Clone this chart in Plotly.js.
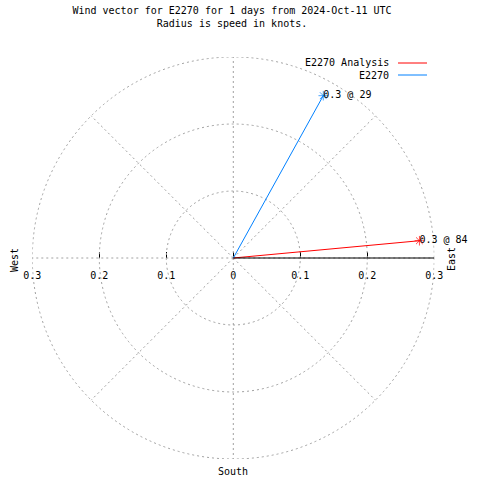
<!DOCTYPE html>
<html>
<head>
<meta charset="utf-8">
<script src="https://cdn.plot.ly/plotly-3.0.1.min.js"></script>
<style>html,body{margin:0;padding:0;background:#fff;}#chart{width:480px;height:480px;}</style>
</head>
<body>
<div id="chart"></div>
<script>
const seriesNames = ['E2270 Analysis', 'E2270'];
const speedKnots = [0.279, 0.277];
const directionDeg = [84.7, 29.0];
const pointLabels = ['0.3 @ 84', '0.3 @ 29'];
const seriesColors = ['#ff0000', '#0080ff'];
const radialTicks = [0.1, 0.2, 0.3];
const radialMax = 0.3;
const axisTickVals = [-0.3, -0.2, -0.1, 0, 0.1, 0.2, 0.3];
const axisTickText = ['0.3', '0.2', '0.1', '0', '0.1', '0.2', '0.3'];
const titleText = 'Wind vector for E2270 for 1 days from 2024-Oct-11 UTC<br>Radius is speed in knots.';

const FONT = 'DejaVu Sans Mono, Liberation Mono, monospace';
const W = 480, H = 480;
const cx = 233.3, cy = 258, R = 201;
const px = v => v / W, py = v => 1 - v / H;
const GRID = {color: '#a0a0a0', width: 1, dash: '2px,3px'};

const traces = [{type: 'scatter', x: [], y: [], xaxis: 'x', yaxis: 'y', showlegend: false, hoverinfo: 'skip'}];
seriesNames.forEach((name, i) => {
  traces.push({
    type: 'scatterpolar',
    name: name,
    r: [0, speedKnots[i]],
    theta: [directionDeg[i], directionDeg[i]],
    mode: 'lines+markers',
    line: {color: seriesColors[i], width: 1},
    marker: {symbol: 'asterisk-open', size: [0, 8], color: seriesColors[i], line: {color: seriesColors[i], width: 1}},
    showlegend: false,
    cliponaxis: false
  });
  traces.push({
    type: 'scatterpolar',
    name: name + ' label',
    r: [speedKnots[i]],
    theta: [directionDeg[i]],
    mode: 'text',
    text: [pointLabels[i]],
    textposition: 'middle right',
    textfont: {family: FONT, size: 10, color: '#000'},
    showlegend: false,
    cliponaxis: false
  });
});

const annotations = [
  {text: 'West', x: px(14), y: py(260), textangle: -90},
  {text: 'East', x: px(451), y: py(259), textangle: -90},
  {text: 'South', x: px(233), y: py(471)}
].map(a => Object.assign({xref: 'paper', yref: 'paper', showarrow: false, xanchor: 'center', yanchor: 'middle',
  font: {family: FONT, size: 10, color: '#000'}}, a));

const shapes = [
  {type: 'circle', xref: 'x', yref: 'y', x0: -radialMax, x1: radialMax, y0: -radialMax, y1: radialMax,
    line: GRID, layer: 'below'},
  {type: 'line', xref: 'x', yref: 'y', x0: 0, x1: radialMax, y0: 0, y1: 0, line: {color: '#000', width: 1}}
];
seriesNames.forEach((name, i) => {
  const y = 63 + 12 * i;
  annotations.push({text: name, xref: 'paper', yref: 'paper', x: px(391), y: py(y), xanchor: 'right', yanchor: 'middle',
    showarrow: false, font: {family: FONT, size: 10, color: '#000'}});
  shapes.push({type: 'line', xref: 'paper', yref: 'paper', x0: px(398), x1: px(427), y0: py(y), y1: py(y),
    line: {color: seriesColors[i], width: 1}});
});

const layout = {
  width: W, height: H,
  margin: {l: 0, r: 0, t: 0, b: 0},
  paper_bgcolor: '#fff',
  plot_bgcolor: 'rgba(0,0,0,0)',
  showlegend: false,
  title: {text: titleText, x: px(232), xanchor: 'center', y: py(14), yanchor: 'top',
    font: {family: FONT, size: 10, color: '#000'}},
  font: {family: FONT, size: 10, color: '#000'},
  polar: {
    domain: {x: [px(cx - R), px(cx + R)], y: [py(cy + R), py(cy - R)]},
    bgcolor: 'rgba(0,0,0,0)',
    radialaxis: {range: [0, radialMax], tickvals: radialTicks, showticklabels: false, ticks: '',
      showline: false, angle: 0,
      showgrid: true, gridcolor: GRID.color, griddash: GRID.dash, gridwidth: 1},
    angularaxis: {rotation: 90, direction: 'clockwise', tickmode: 'linear', tick0: 0, dtick: 45,
      showticklabels: false, ticks: '', showline: false,
      showgrid: true, gridcolor: GRID.color, griddash: GRID.dash, gridwidth: 1}
  },
  xaxis: {domain: [px(cx - R), px(cx + R)], range: [-radialMax, radialMax], anchor: 'free', position: py(cy),
    tickmode: 'array', tickvals: axisTickVals, ticktext: axisTickText,
    ticks: 'inside', ticklen: 6, tickcolor: '#000', tickwidth: 1, ticklabelstandoff: 10,
    showgrid: false, zeroline: false, showline: false, fixedrange: true,
    tickfont: {family: FONT, size: 10, color: '#000'}},
  yaxis: {domain: [py(cy + R), py(cy - R)], range: [-radialMax, radialMax], visible: false, fixedrange: true},
  annotations: annotations,
  shapes: shapes
};

Plotly.newPlot('chart', traces, layout, {staticPlot: true, displayModeBar: false});
</script>
</body>
</html>
